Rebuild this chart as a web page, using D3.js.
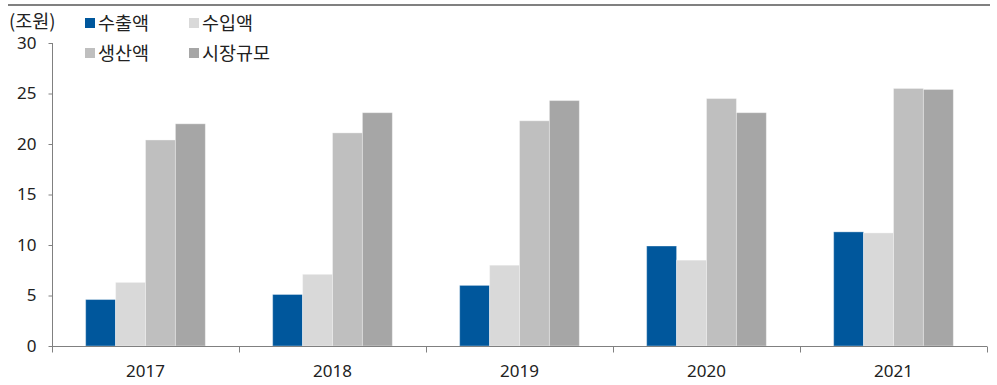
<!DOCTYPE html>
<html>
<head>
<meta charset="utf-8">
<script src="https://cdn.jsdelivr.net/npm/d3@7"></script>
<style>
  html, body { margin: 0; padding: 0; background: #fff; }
  svg { display: block; }
  text { font-family: "Noto Sans CJK KR", "Noto Sans", sans-serif; fill: #222; }
</style>
</head>
<body>
<svg id="chart" width="997" height="385"></svg>
<script>
const years = ["2017", "2018", "2019", "2020", "2021"];
const seriesNames = ["수출액", "수입액", "생산액", "시장규모"];
const exportVals = [4.6, 5.1, 6.0, 9.9, 11.3];
const importVals = [6.3, 7.1, 8.0, 8.5, 11.2];
const productionVals = [20.4, 21.1, 22.3, 24.5, 25.5];
const marketVals = [22.0, 23.1, 24.3, 23.1, 25.4];
const yTicks = [0, 5, 10, 15, 20, 25, 30];
const unitLabel = "(조원)";
const colors = ["#00579C", "#D9D9D9", "#BFBFBF", "#A6A6A6"];

const allVals = [exportVals, importVals, productionVals, marketVals];
const svg = d3.select("#chart");

// top rule
svg.append("line").attr("x1", 8).attr("x2", 990).attr("y1", 5).attr("y2", 5)
  .attr("stroke", "#808080").attr("stroke-width", 2);

const x0 = d3.scaleBand().domain(years).range([52, 987]).padding(0);
const bw = x0.bandwidth();
const x1 = d3.scaleBand().domain(seriesNames).range([bw * 0.18, bw * 0.82]).padding(0);
const y = d3.scaleLinear().domain([0, 30]).range([346, 43]);

// bars
const g = svg.append("g");
years.forEach((yr, i) => {
  seriesNames.forEach((s, j) => {
    const v = allVals[j][i];
    g.append("rect")
      .attr("x", x0(yr) + x1(s))
      .attr("y", y(v))
      .attr("width", x1.bandwidth())
      .attr("height", y(0) - y(v))
      .attr("fill", colors[j])
      .attr("stroke", "rgba(255,255,255,0.35)")
      .attr("stroke-width", 1);
  });
});

// y axis
const yAxis = d3.axisLeft(y).tickValues(yTicks).tickSize(4).tickPadding(12).tickSizeOuter(0);
const ya = svg.append("g").attr("transform", "translate(52.5,0)").call(yAxis);
ya.select(".domain").attr("stroke", "#808080").attr("d", `M0,${y(30)}V${y(0)}`);
ya.selectAll(".tick line").attr("stroke", "#808080");
ya.selectAll(".tick text").style("font-size", "17px").style("font-family", "'Noto Sans', sans-serif").attr("fill", "#222");

// x axis
const xa = svg.append("g").attr("transform", `translate(0,${y(0) + 0.5})`);
xa.append("line").attr("x1", 52).attr("x2", 987).attr("stroke", "#808080").attr("stroke-width", 1.2);
const bounds = years.map(yr => x0(yr)).concat([x0(years[years.length - 1]) + bw]);
xa.selectAll(".xt").data(bounds).enter().append("line")
  .attr("x1", d => Math.round(d) + 0.5).attr("x2", d => Math.round(d) + 0.5)
  .attr("y1", 0).attr("y2", 6).attr("stroke", "#808080");
xa.selectAll(".xl").data(years).enter().append("text")
  .attr("x", d => x0(d) + bw / 2).attr("y", 30)
  .attr("text-anchor", "middle")
  .style("font-size", "17px").style("font-family", "'Noto Sans', sans-serif")
  .text(d => d);

// unit label
svg.append("text").attr("x", 9).attr("y", 28).style("font-size", "18.5px").text(unitLabel);

// legend
const legPos = [[85, 18], [189, 18], [85, 48], [189, 48]];
seriesNames.forEach((s, j) => {
  const [lx, ly] = legPos[j];
  svg.append("rect").attr("x", lx).attr("y", ly).attr("width", 10).attr("height", 10).attr("fill", colors[j]);
  svg.append("text").attr("x", lx + 13).attr("y", ly + 11.5).style("font-size", "18.5px").text(s);
});
</script>
</body>
</html>
